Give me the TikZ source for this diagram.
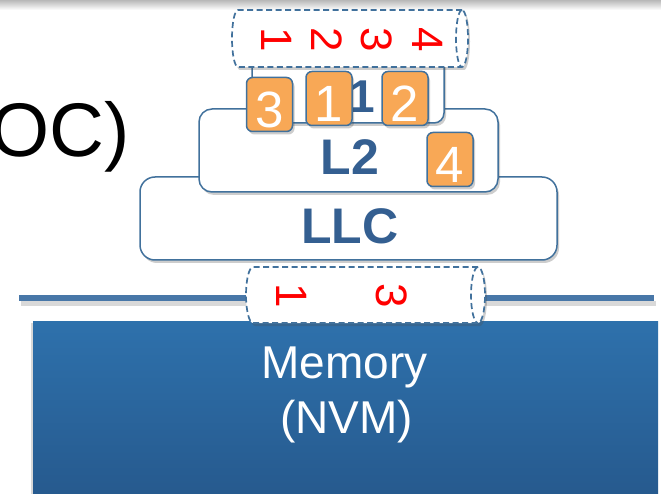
\documentclass[tikz,border=0pt]{standalone}
\usepackage{fontspec}
\setmainfont{Liberation Sans}
\usetikzlibrary{shadows}
\definecolor{bord}{RGB}{65,113,156}
\definecolor{lbl}{RGB}{52,95,145}
\definecolor{orng}{RGB}{248,168,86}
\definecolor{memtop}{RGB}{46,113,172}
\definecolor{membot}{RGB}{38,89,141}
\definecolor{busc}{RGB}{72,119,168}
\begin{document}
\begin{tikzpicture}[x=1pt,y=-1pt,
  softshadow/.style={drop shadow={shadow xshift=2pt, shadow yshift=-3pt, opacity=0.28, fill=black!70}},
  cachebox/.style={draw=bord, line width=1.5pt, fill=white, inner sep=0pt, softshadow},
  cachelbl/.style={text=lbl, font=\bfseries\fontsize{50}{50}\selectfont, inner sep=0pt, text depth=0pt},
  obox/.style={draw=bord, line width=1.5pt, fill=orng, rounded corners=6pt, minimum width=46pt,
     minimum height=54pt, inner sep=0pt, text=white, font=\fontsize{51}{51}\selectfont,
     text height=46pt, text depth=0pt, softshadow},
  reddigit/.style={text=red, rotate=-90, font=\fontsize{44}{44}\selectfont, inner sep=0pt, text depth=0pt},
  cyl/.style={draw=bord, dash pattern=on 6pt off 3.5pt, line width=1.7pt, fill=white},
  cylline/.style={draw=bord, dash pattern=on 6pt off 3.5pt, line width=1.7pt},
  memtxt/.style={text=white, font=\fontsize{46}{46}\selectfont, inner sep=0pt, anchor=base}
]
\useasboundingbox (0,0) rectangle (661,494);
\clip (0,0) rectangle (661,494);
\fill[white] (0,0) rectangle (661,494);
% top grey band
\shade[top color=black!28, bottom color=white] (0,0) rectangle (661,10);

% title fragment
\node[anchor=base west, inner sep=0pt, font=\fontsize{76}{76}\selectfont] (title) at (-10,157) {OC)};

% cache hierarchy
\node[cachebox, rounded corners=15pt, minimum width=417pt, minimum height=83pt] (llc) at (348.5,218.5) {};
\node[cachebox, rounded corners=13pt, minimum width=299pt, minimum height=83pt] (l2) at (348.5,150.5) {};
\node[cachebox, rounded corners=10pt, minimum width=192pt, minimum height=73pt] (l1) at (348,86.5) {};
\node[cachelbl] (llclbl) at (350,226) {LLC};
\node[cachelbl] (l2lbl) at (350,157) {L2};
\node[cachelbl, font=\bfseries\fontsize{46}{46}\selectfont] (l1lbl) at (348,97) {L1};

% top cylinder (write queue)
\path[cyl, softshadow] (462,10) -- (238,10) arc[start angle=90, end angle=270, x radius=6pt, y radius=28.5pt]
   -- (462,67) arc[start angle=-90, end angle=90, x radius=6pt, y radius=28.5pt] -- cycle;
\draw[cylline] (462,10) arc[start angle=90, end angle=270, x radius=6pt, y radius=28.5pt];
\node[reddigit] (t1) at (277,40) {1};
\node[reddigit] (t2) at (327,40) {2};
\node[reddigit] (t3) at (377,40) {3};
\node[reddigit] (t4) at (428,40) {4};

% orange blocks
\node[obox] (b3) at (269.5,104.5) {3};
\node[obox] (b1) at (329,98.5) {1};
\node[obox] (b2) at (405,98.5) {2};
\node[obox] (b4) at (450,159.5) {4};

% bus
\coordinate (busL) at (19,298);
\coordinate (busR) at (654,298);
\draw[line width=5pt, black, opacity=0.15] ([shift={(2pt,-5pt)}]busL) -- ([shift={(2pt,-5pt)}]busR);
\draw[line width=6pt, busc] (busL) -- (busR);

% memory
\node[inner sep=0pt, minimum width=625pt, minimum height=180pt, top color=memtop, bottom color=membot,
      drop shadow={shadow xshift=-2pt, shadow yshift=-2pt, opacity=0.3}] (mem) at (345.5,411) {};
\node[memtxt] (memA) at (344.5,378) {Memory};
\node[memtxt] (memB) at (346.5,433) {(NVM)};

% bottom cylinder
\path[cyl, softshadow] (478,267) -- (253,267) arc[start angle=90, end angle=270, x radius=7pt, y radius=28pt]
   -- (478,323) arc[start angle=-90, end angle=90, x radius=7pt, y radius=28pt] -- cycle;
\draw[cylline] (478,267) arc[start angle=90, end angle=270, x radius=7pt, y radius=28pt];
\node[reddigit] (m1) at (292,296) {1};
\node[reddigit] (m3) at (392,296) {3};
\end{tikzpicture}
\end{document}
